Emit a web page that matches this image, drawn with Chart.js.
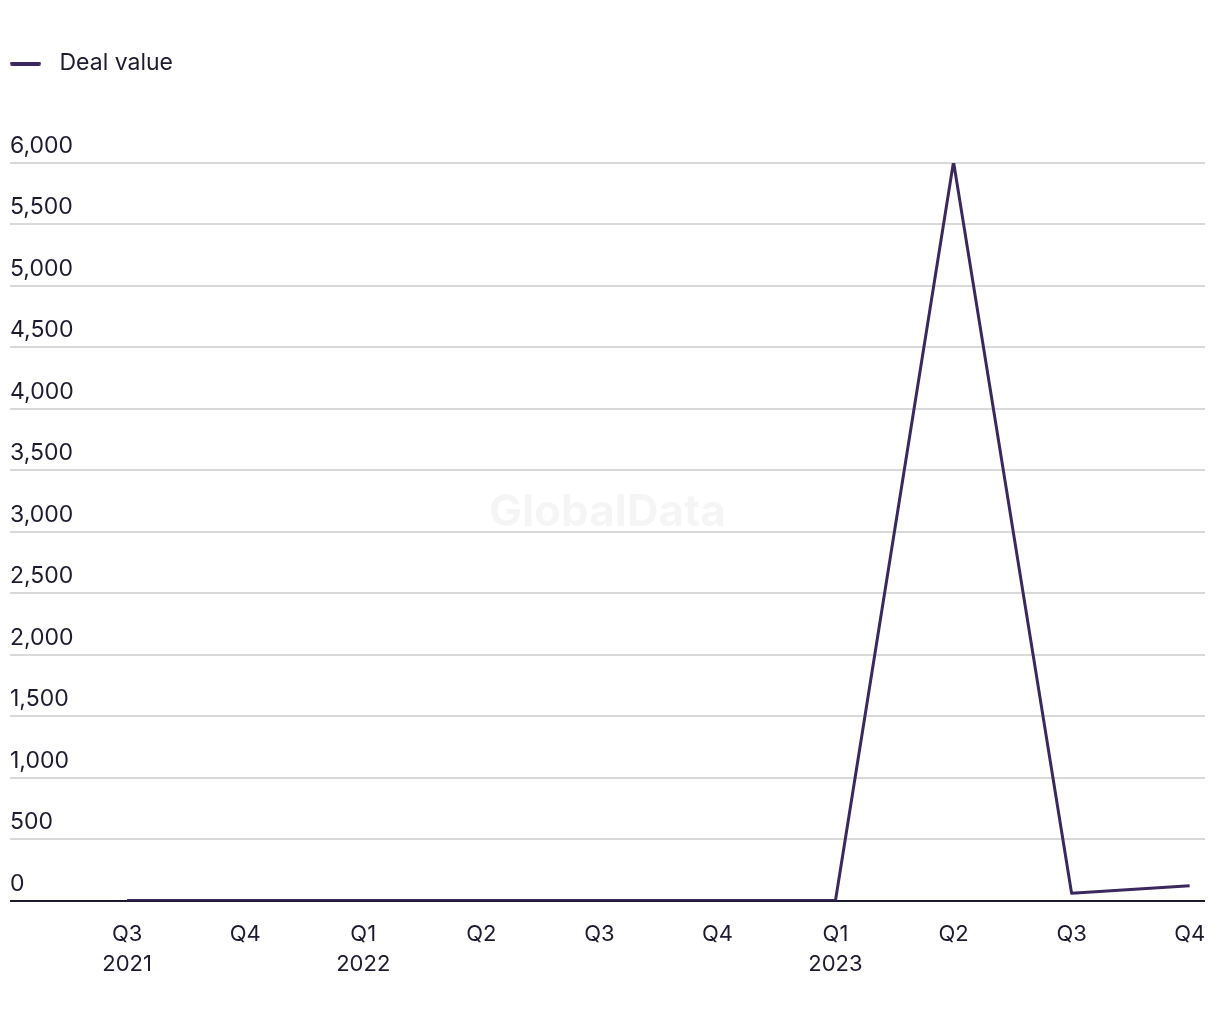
<!DOCTYPE html>
<html>
<head>
<meta charset="utf-8">
<script src="https://cdn.jsdelivr.net/npm/chart.js@4.4.0/dist/chart.umd.min.js"></script>
<style>
  html, body { margin: 0; padding: 0; background: #ffffff; }
  #wrap { width: 1220px; height: 1020px; position: relative; }
</style>
</head>
<body>
<div id="wrap"><canvas id="c"></canvas></div>
<script>
const quarters = ["Q3", "Q4", "Q1", "Q2", "Q3", "Q4", "Q1", "Q2", "Q3", "Q4"];
const years = ["2021", "", "2022", "", "", "", "2023", "", "", ""];
const dealValue = [0, 0, 0, 0, 0, 0, 0, 6010, 60, 120];
const seriesName = "Deal value";

const LINE = "#3b285e";
const TEXT = "#1d1b30";
const FONT = "Inter, 'Liberation Sans', sans-serif";

// legend swatch image (line sample)
const sw = document.createElement("canvas");
sw.width = 38; sw.height = 4;
const sctx = sw.getContext("2d");
sctx.fillStyle = LINE;
sctx.beginPath();
sctx.roundRect ? sctx.roundRect(0, 0, 31, 4, 2) : sctx.rect(0, 0, 31, 4);
sctx.fill();

const watermark = {
  id: "watermark",
  beforeDatasetsDraw(chart) {
    const { ctx, chartArea } = chart;
    ctx.save();
    ctx.font = "bold 44px " + FONT;
    ctx.fillStyle = "rgba(0,0,0,0.04)";
    ctx.textAlign = "center";
    ctx.textBaseline = "middle";
    ctx.fillText("GlobalData", (chartArea.left + chartArea.right) / 2, (chartArea.top + chartArea.bottom) / 2 - 19);
    ctx.restore();
  }
};

const legendSpace = {
  id: "legendSpace",
  beforeInit(chart) {
    const orig = chart.legend.fit;
    chart.legend.fit = function () {
      orig.call(this);
      this.height += 78;
    };
  }
};

const points = dealValue.map((v, i) => ({ x: i, y: v }));

new Chart(document.getElementById("c"), {
  type: "line",
  data: {
    datasets: [{
      label: seriesName,
      data: points,
      borderColor: LINE,
      backgroundColor: LINE,
      borderWidth: 3,
      pointRadius: 0,
      pointHoverRadius: 0,
      tension: 0,
      borderJoinStyle: "round",
      borderCapStyle: "butt"
    }]
  },
  options: {
    responsive: true,
    maintainAspectRatio: false,
    animation: false,
    layout: { padding: { left: 10, right: 15, top: 52, bottom: 30 } },
    plugins: {
      tooltip: { enabled: false },
      legend: {
        position: "top",
        align: "start",
        labels: {
          usePointStyle: true,
          pointStyle: sw,
          pointStyleWidth: 38,
          boxHeight: 4,
          padding: 0,
          color: TEXT,
          font: { family: FONT, size: 23 }
        }
      }
    },
    scales: {
      x: {
        type: "linear",
        min: -0.992,
        max: 9.13,
        grid: { display: false },
        border: { display: false },
        ticks: {
          stepSize: 1,
          includeBounds: false,
          autoSkip: false,
          maxRotation: 0,
          padding: 11,
          color: TEXT,
          font: { family: FONT, size: 22, lineHeight: 1.35 },
          callback: (v) => {
            if (!Number.isInteger(v) || v < 0 || v >= quarters.length) return "";
            return years[v] ? [quarters[v], years[v]] : quarters[v];
          }
        }
      },
      y: {
        min: 0,
        max: 6000,
        grid: {
          drawTicks: false,
          color: (ctx) => ctx.tick && ctx.tick.value === 0 ? "#1c1a33" : "#d9d9d9",
          lineWidth: 2
        },
        border: { display: false },
        ticks: {
          stepSize: 500,
          mirror: true,
          padding: 0,
          labelOffset: -17,
          color: TEXT,
          font: { family: FONT, size: 23 },
          callback: (v) => v.toLocaleString("en-US")
        }
      }
    }
  },
  plugins: [watermark, legendSpace]
});
</script>
</body>
</html>
